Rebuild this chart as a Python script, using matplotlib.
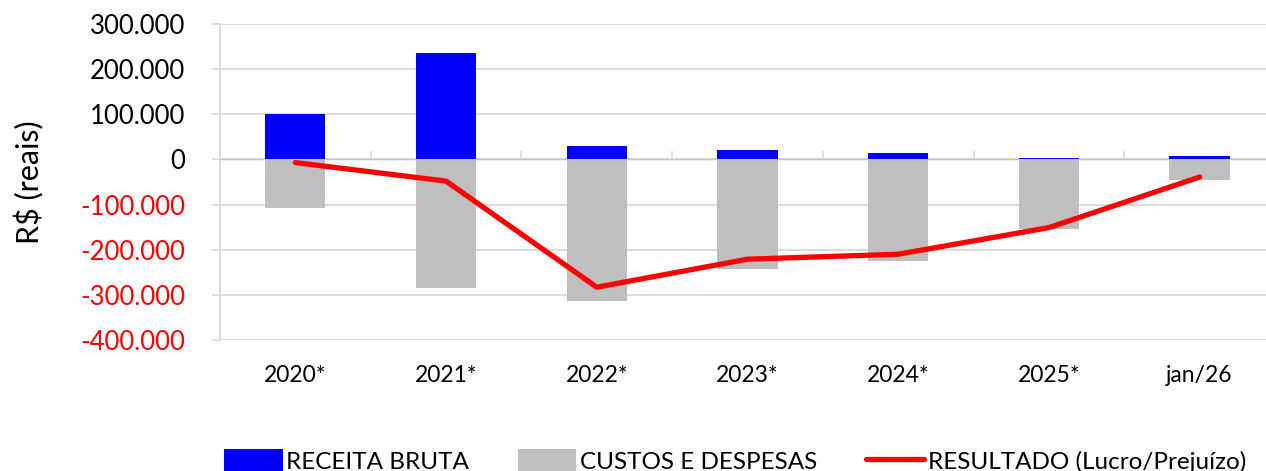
import matplotlib
matplotlib.use("Agg")

import matplotlib.pyplot as plt
from matplotlib.ticker import FuncFormatter, MultipleLocator
import numpy as np

CATEGORIES = ["2020*", "2021*", "2022*", "2023*", "2024*", "2025*", "jan/26"]
RECEITA = [100000, 236000, 30000, 21000, 14000, 4000, 7000]
CUSTOS = [-107000, -284000, -313000, -242000, -224000, -155000, -46000]
RESULTADO = [-7000, -48000, -283000, -221000, -210000, -151000, -39000]

GRID = "#d9d9d9"

plt.rcParams["font.family"] = ["Lato", "DejaVu Sans"]

fig = plt.figure(figsize=(12.66, 4.71), dpi=100)
ax = fig.add_axes([220 / 1266, 131 / 471, 1055 / 1266, 316 / 471])

x = np.arange(len(CATEGORIES))
b1 = ax.bar(x, RECEITA, width=0.4, color="#0000ff", label="RECEITA BRUTA", zorder=2)
b2 = ax.bar(x, CUSTOS, width=0.4, color="#bfbfbf", label="CUSTOS E DESPESAS", zorder=2)
(l1,) = ax.plot(x, RESULTADO, color="#ff0000", linewidth=3.8, solid_capstyle="round",
                label="RESULTADO (Lucro/Prejuízo)", zorder=3)

ax.set_xlim(-0.5, len(CATEGORIES) - 0.5)
ax.set_ylim(-400000, 300000)
ax.yaxis.set_major_locator(MultipleLocator(100000))


def fmt(v, pos):
    s = f"{abs(int(v)):,}".replace(",", ".")
    return "-" + s if v < 0 else s


ax.yaxis.set_major_formatter(FuncFormatter(fmt))
ax.tick_params(axis="y", length=6, width=1.1, color=GRID, pad=19, labelsize=18.5)
for lbl, v in zip(ax.get_yticklabels(), ax.get_yticks()):
    lbl.set_color("red" if v < 0 else "black")

ax.set_xticks(x)
ax.set_xticklabels(CATEGORIES)
ax.tick_params(axis="x", length=0, pad=18, labelsize=16.5)

ax.grid(axis="y", color=GRID, linewidth=1.3, zorder=0)
for side in ["top", "right", "bottom"]:
    ax.spines[side].set_visible(False)
ax.spines["left"].set_color(GRID)
ax.spines["left"].set_linewidth(1.3)

# category axis crossing at zero, with ticks between categories
zero_pos = (0 - ax.get_ylim()[0]) / (ax.get_ylim()[1] - ax.get_ylim()[0])
sec = ax.secondary_xaxis(zero_pos)
sec.set_xticks(x[:-1] + 0.5)
sec.set_xticklabels([])
sec.tick_params(length=6, width=1.1, color=GRID, direction="out")
sec.spines["bottom"].set_color(GRID)
sec.spines["bottom"].set_linewidth(1.3)

ax.set_ylabel("R$ (reais)", fontsize=22, labelpad=26)

fig.legend(handles=[b1, b2, l1], loc="center", bbox_to_anchor=(735 / 1266, 10 / 471),
           ncol=3, frameon=False, fontsize=17.5, handlelength=2.4, handleheight=1.0,
           handletextpad=0.15, columnspacing=2.0)

fig.savefig("out.png", dpi=100)
